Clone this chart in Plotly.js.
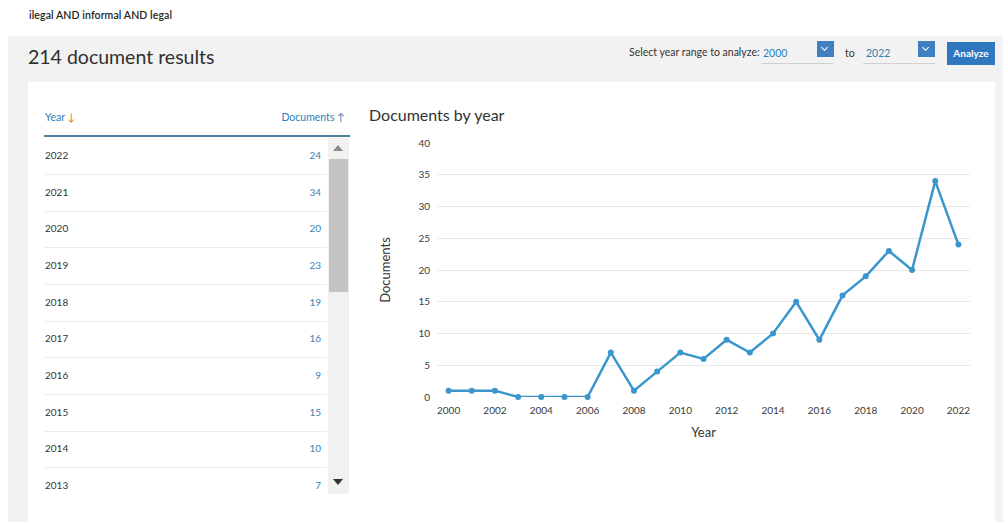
<!DOCTYPE html>
<html>
<head>
<meta charset="utf-8">
<script src="https://cdn.plot.ly/plotly-3.0.1.min.js"></script>
<style>
  html, body { margin:0; padding:0; background:#ffffff; width:1008px; height:525px; overflow:hidden; font-family: Lato, "Open Sans", sans-serif; }
  .abs { position:absolute; }
  #query { left:29px; top:9px; font-size:10.5px; color:#222; font-weight:600; letter-spacing:0.1px; }
  #panel { left:8px; top:36px; width:995px; height:486px; background:#f3f2f2; }
  #card { left:28px; top:82px; width:967px; height:440px; background:#ffffff; }
  #heading { left:28px; top:45px; font-size:19.5px; color:#2f2f2f; }
  .ctl { font-size:10.5px; color:#333; }
  .sel { font-size:10.5px; color:#2e7eb5; }
  .uline { height:1px; background:#cfcfcf; }
  .dd { width:17px; height:16px; background:#3f80c2; }
  .dd::after { content:""; position:absolute; left:5px; top:4px; width:4px; height:4px; border-right:1.5px solid #fff; border-bottom:1.5px solid #fff; transform:rotate(45deg); }
  #analyze { left:947px; top:42px; width:48px; height:23px; background:#2f78c0; color:#fff; font-size:10px; font-weight:700; text-align:center; line-height:23px; }
  #thead { left:44px; top:109px; width:306px; height:26px; border-bottom:2px solid #4d7f9e; }
  .th { font-size:10.5px; color:#2e7eb5; }
  .row { position:absolute; left:44px; width:283px; height:36px; border-bottom:1px solid #ececec; }
  .row.last { border-bottom:none; }
  .yr { position:absolute; left:1px; font-size:10px; color:#333; }
  .val { position:absolute; right:6px; font-size:10px; color:#3a7fb3; }
  #track { left:328px; top:138px; width:21px; height:356px; background:#f1f1f1; }
  #thumb { left:329px; top:159px; width:19px; height:133px; background:#c3c3c3; }
  .tri-up { width:0; height:0; border-left:5px solid transparent; border-right:5px solid transparent; border-bottom:6px solid #8a8a8a; }
  .tri-dn { width:0; height:0; border-left:5px solid transparent; border-right:5px solid transparent; border-top:6px solid #333; }
  #plot { left:360px; top:100px; width:620px; height:350px; }
</style>
</head>
<body>
<div id="query" class="abs">ilegal AND informal AND legal</div>
<div id="panel" class="abs"></div>
<div id="card" class="abs"></div>
<div id="heading" class="abs">214 document results</div>

<div class="abs ctl" style="left:629px; top:46px;">Select year range to analyze:</div>
<div class="abs sel" style="left:763px; top:47px;">2000</div>
<div class="abs uline" style="left:761px; top:63px; width:72px;"></div>
<div class="abs dd" style="left:817px; top:41px;"></div>
<div class="abs ctl" style="left:845px; top:47px;">to</div>
<div class="abs sel" style="left:866px; top:47px;">2022</div>
<div class="abs uline" style="left:863px; top:63px; width:72px;"></div>
<div class="abs dd" style="left:918px; top:41px;"></div>
<div id="analyze" class="abs">Analyze</div>

<div id="thead" class="abs">
  <span class="th abs" style="left:1px; top:2px;">Year <span style="color:#e8711e;">&#8595;</span></span>
  <span class="th abs" style="right:5px; top:2px;">Documents &#8593;</span>
</div>
<div id="rows"></div>
<div id="track" class="abs"></div>
<div id="thumb" class="abs"></div>
<div class="abs tri-up" style="left:333px; top:145px;"></div>
<div class="abs tri-dn" style="left:333px; top:479px;"></div>

<div id="plot" class="abs"></div>

<script>
// Data
const years = [2000, 2001, 2002, 2003, 2004, 2005, 2006, 2007, 2008, 2009, 2010, 2011,
               2012, 2013, 2014, 2015, 2016, 2017, 2018, 2019, 2020, 2021, 2022];
const documents = [1, 1, 1, 0, 0, 0, 0, 7, 1, 4, 7, 6,
                   9, 7, 10, 15, 9, 16, 19, 23, 20, 34, 24];
const yTicks = [0, 5, 10, 15, 20, 25, 30, 35, 40];
const xTicks = [2000, 2002, 2004, 2006, 2008, 2010, 2012, 2014, 2016, 2018, 2020, 2022];
const tableRowsShown = 10;

// Table (descending by year)
const rowsEl = document.getElementById('rows');
for (let i = 0; i < tableRowsShown; i++) {
  const idx = years.length - 1 - i;
  const r = document.createElement('div');
  r.className = 'row' + (i === tableRowsShown - 1 ? ' last' : '');
  r.style.top = (138 + i * 36.67) + 'px';
  r.innerHTML = '<span class="yr" style="top:11px;">' + years[idx] + '</span>' +
                '<span class="val" style="top:11px;">' + documents[idx] + '</span>';
  rowsEl.appendChild(r);
}

const lineColor = '#3b96cd';
const trace = {
  x: years, y: documents, type: 'scatter', mode: 'lines+markers',
  line: { color: lineColor, width: 2.5 },
  marker: { color: lineColor, size: 6 },
  cliponaxis: false, hoverinfo: 'x+y'
};

const tickFont = { family: 'Lato, "Open Sans", sans-serif', size: 10, color: '#3a3a3a' };
const layout = {
  width: 620, height: 350,
  margin: { l: 77, r: 10, t: 43, b: 53 },
  paper_bgcolor: 'rgba(0,0,0,0)', plot_bgcolor: 'rgba(0,0,0,0)',
  showlegend: false,
  title: { text: 'Documents by year', xref: 'container', yref: 'container',
           x: 9/620, xanchor: 'left', y: 1 - 15/350, yanchor: 'middle',
           font: { family: 'Lato, "Open Sans", sans-serif', size: 16, color: '#333' } },
  xaxis: {
    range: [1999.5, 2022.5], tickvals: xTicks, ticktext: xTicks.map(String),
    showgrid: false, zeroline: false, showline: false, ticks: '',
    tickfont: tickFont, ticklabelstandoff: 6,
    title: { text: 'Year', standoff: 12, font: { family: 'Lato, "Open Sans", sans-serif', size: 13, color: '#333' } }
  },
  yaxis: {
    range: [0, 40], tickvals: yTicks, ticktext: yTicks.map(String),
    showgrid: true, gridcolor: '#e8e8e8', gridwidth: 1, zeroline: false, showline: false, ticks: '',
    tickfont: tickFont, ticklabelstandoff: 6,
    title: { text: 'Documents', standoff: 24, font: { family: 'Lato, "Open Sans", sans-serif', size: 13, color: '#333' } }
  }
};
Plotly.newPlot('plot', [trace], layout, { displayModeBar: false, staticPlot: true });
</script>
</body>
</html>
